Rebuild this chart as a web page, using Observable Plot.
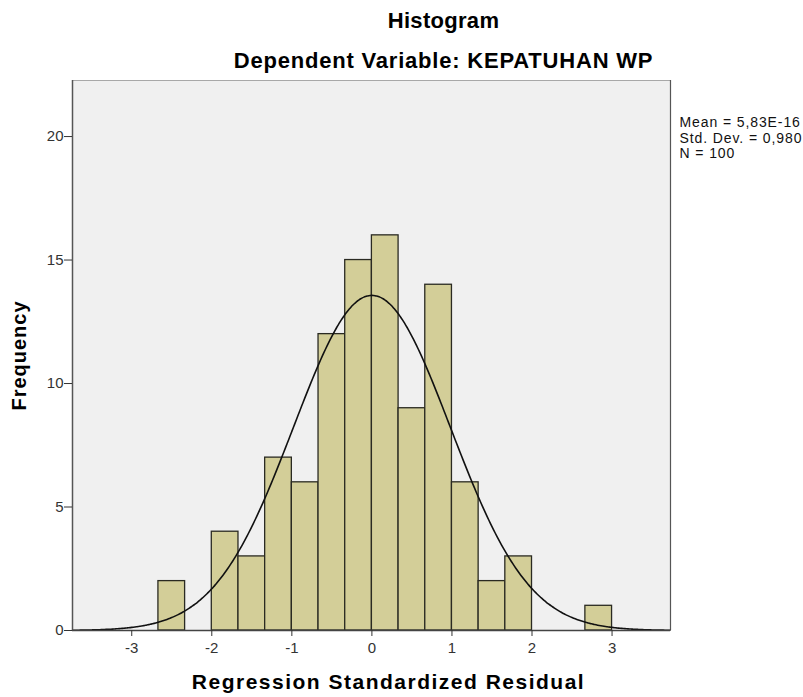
<!DOCTYPE html>
<html>
<head>
<meta charset="utf-8">
<script src="https://cdn.jsdelivr.net/npm/d3@7"></script>
<script src="https://cdn.jsdelivr.net/npm/@observablehq/plot@0.6"></script>
<style>
  html, body { margin: 0; padding: 0; background: #fff; }
  #chart svg { display: block; font-family: "Liberation Sans", Arial, sans-serif; }
</style>
</head>
<body>
<div id="chart"></div>
<script>
// Histogram bins (left edge) and frequencies
const binStarts = [-8/3, -2, -5/3, -4/3, -1, -2/3, -1/3, 0, 1/3, 2/3, 1, 4/3, 5/3, 8/3];
const frequencies = [2, 4, 3, 7, 6, 12, 15, 16, 9, 14, 6, 2, 3, 1];
const binWidth = 1/3;
// Reported statistics
const meanValue = 5.83e-16;
const stdDev = 0.980;
const nObs = 100;
const statsLines = ["Mean = 5,83E-16", "Std. Dev. = 0,980", "N = 100"];
const xTicks = [-3, -2, -1, 0, 1, 2, 3];
const yTicks = [0, 5, 10, 15, 20];
const titleText = "Histogram";
const subtitleText = "Dependent Variable: KEPATUHAN WP";
const xLabel = "Regression Standardized Residual";
const yLabel = "Frequency";

const xDomain = [-3.74, 3.73];
const bars = binStarts.map((s, i) => ({x1: s, x2: s + binWidth, y: frequencies[i]}));
// Normal curve fitted from the reported mean / sd, scaled to counts
const curve = d3.range(xDomain[0], xDomain[1] + 0.001, 0.02).map(x => ({
  x,
  y: nObs * binWidth * Math.exp(-0.5 * ((x - meanValue) / stdDev) ** 2) / (stdDev * Math.sqrt(2 * Math.PI))
}));

const statMarks = statsLines.map((s, i) =>
  Plot.text([s], {frameAnchor: "top-right", dx: 9, dy: 42.5 + i * 15.5, lineAnchor: "middle", textAnchor: "start", fontSize: 14, fill: "#111"})
);

const chart = Plot.plot({
  width: 803,
  height: 697,
  marginLeft: 72,
  marginRight: 133,
  marginTop: 80,
  marginBottom: 67,
  style: {background: "#fff", fontFamily: "Liberation Sans, Arial, sans-serif"},
  x: {domain: xDomain, ticks: xTicks, label: null},
  y: {domain: [0, 22.27], ticks: yTicks, label: null},
  marks: [
    Plot.frame({fill: "#f0f0f0", stroke: "#a8a8a8"}),
    Plot.ruleX([xDomain[1]], {stroke: "#555", strokeWidth: 1.2}),
    Plot.rectY(bars, {x1: "x1", x2: "x2", y: "y", fill: "#d3ce98", stroke: "#2a2a22", strokeWidth: 1.3}),
    Plot.line(curve, {x: "x", y: "y", stroke: "#111", strokeWidth: 1.6, curve: "basis"}),
    Plot.ruleX([xDomain[0]], {stroke: "#555", strokeWidth: 1.5}),
    Plot.ruleY([0], {stroke: "#444", strokeWidth: 1.5}),
    Plot.axisX({ticks: xTicks, tickSize: 6, tickPadding: 6, fontSize: 15, stroke: "#333", fill: "#333", label: null, tickFormat: d => String(d)}),
    Plot.axisY({ticks: yTicks, tickSize: 8, tickPadding: 1, fontSize: 15, stroke: "#333", fill: "#333", label: null, tickFormat: d => String(d)}),
    Plot.text([titleText], {frameAnchor: "top", dx: 72, dy: -60, lineAnchor: "middle", fontSize: 22, fontWeight: "bold", fill: "#000"}),
    Plot.text([subtitleText], {frameAnchor: "top", dx: 72, dy: -20, lineAnchor: "middle", fontSize: 22, fontWeight: "bold", fill: "#000"}),
    Plot.text([xLabel], {frameAnchor: "bottom", dx: 17, dy: 51.6, lineAnchor: "middle", textAnchor: "middle", fontSize: 21, fontWeight: "bold", fill: "#000"}),
    Plot.text([yLabel], {frameAnchor: "left", dx: -53.4, lineAnchor: "middle", textAnchor: "middle", rotate: -90, fontSize: 20, fontWeight: "bold", fill: "#000"}),
    ...statMarks
  ]
});
// letter spacing to match the wider original typeface
const spacing = new Map([
  [titleText, 0.3], [subtitleText, 0.8], [xLabel, 1.5], [yLabel, 1.0],
  ...statsLines.map(s => [s, 0.9])
]);
chart.querySelectorAll("text").forEach(t => {
  const k = t.textContent;
  if (spacing.has(k)) t.style.letterSpacing = spacing.get(k) + "px";
});
document.getElementById("chart").appendChild(chart);
</script>
</body>
</html>
